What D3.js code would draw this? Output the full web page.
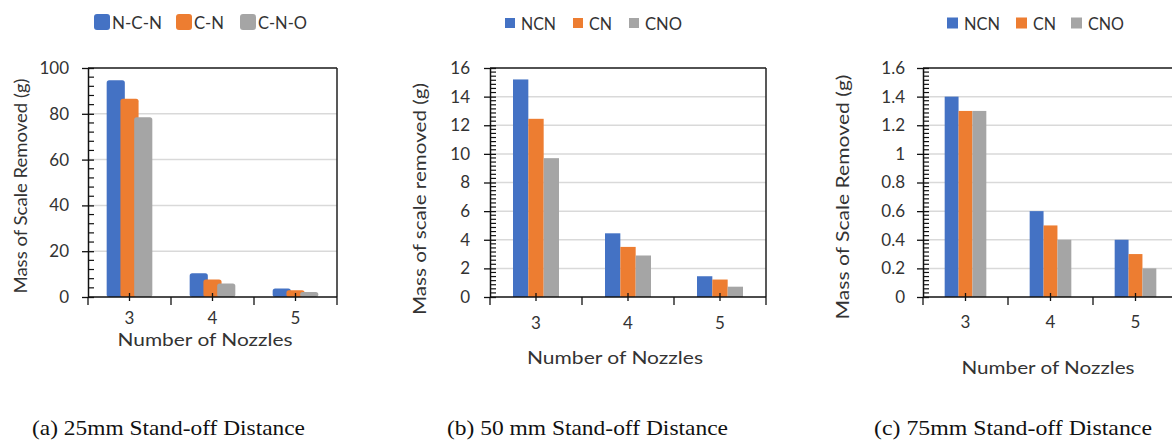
<!DOCTYPE html>
<html><head><meta charset="utf-8">
<script src="https://cdn.jsdelivr.net/npm/d3@7"></script>
<style>body{margin:0;background:#fff;}svg{display:block;}</style>
</head><body>
<svg id="chart" width="1172" height="441"></svg>
<script>
// ---- data ----
const categories = ["3", "4", "5"];
const seriesA = ["N-C-N", "C-N", "C-N-O"];
const seriesB = ["NCN", "CN", "CNO"];
const seriesC = ["NCN", "CN", "CNO"];
const a_NCN = [94.6, 10.4, 3.7];
const a_CN  = [86.6, 7.6, 3.0];
const a_CNO = [78.5, 5.9, 2.2];
const b_NCN = [15.2, 4.45, 1.45];
const b_CN  = [12.45, 3.5, 1.22];
const b_CNO = [9.7, 2.9, 0.72];
const c_NCN = [1.4, 0.6, 0.4];
const c_CN  = [1.3, 0.5, 0.3];
const c_CNO = [1.3, 0.4, 0.2];
const yTicksA = [0, 20, 40, 60, 80, 100];
const yTicksB = [0, 2, 4, 6, 8, 10, 12, 14, 16];
const yTicksC = [0, 0.2, 0.4, 0.6, 0.8, 1, 1.2, 1.4, 1.6];
const yTitleA = "Mass of Scale Removed  (g)";
const yTitleB = "Mass of scale removed (g)";
const yTitleC = "Mass of Scale Removed  (g)";
const xTitle = "Number  of Nozzles";
const captions = ["(a) 25mm Stand-off Distance", "(b) 50 mm Stand-off Distance", "(c) 75mm Stand-off Distance"];
const colors = ["#4472C4", "#ED7D31", "#A5A5A5"];

const svg = d3.select("#chart");
const FONT = "Lato, 'Open Sans', sans-serif";
const TXT = "#333";

function panel(cfg) {
  const g = svg.append("g");
  const y = d3.scaleLinear().domain([0, d3.max(cfg.yTicks)]).range([cfg.bottom, cfg.top]);
  const x0 = d3.scaleBand().domain(categories).range([cfg.left, cfg.right])
    .paddingInner(cfg.gap).paddingOuter(cfg.gap / 2);
  const bw = x0.bandwidth();
  const n = cfg.series.length;
  const step = bw / (n - 1 + cfg.widthFactor);
  const barW = step * cfg.widthFactor;

  // gridlines
  g.selectAll(".grid").data(cfg.yTicks.filter(t => t > 0)).enter().append("line")
    .attr("x1", cfg.left).attr("x2", cfg.right)
    .attr("y1", d => y(d)).attr("y2", d => y(d))
    .attr("stroke", "#d9d9d9").attr("stroke-width", 1.5);

  // frame top/right
  g.append("line").attr("x1", cfg.left).attr("x2", cfg.right).attr("y1", cfg.top).attr("y2", cfg.top)
    .attr("stroke", "#222").attr("stroke-width", 1.5);
  g.append("line").attr("x1", cfg.right).attr("x2", cfg.right).attr("y1", cfg.top).attr("y2", cfg.bottom)
    .attr("stroke", "#222").attr("stroke-width", 1.5);

  // bars
  cfg.values.forEach((vals, si) => {
    g.selectAll(".bar" + si).data(vals).enter().append("rect")
      .attr("x", (d, i) => x0(categories[i]) + si * step)
      .attr("y", d => y(d))
      .attr("width", barW)
      .attr("height", d => y(0) - y(d))
      .attr("rx", cfg.rx).attr("ry", cfg.rx)
      .attr("fill", colors[si]);
  });

  // y axis
  const yAxis = d3.axisLeft(y).tickValues(cfg.yTicks).tickSize(6).tickSizeOuter(0)
    .tickFormat(d => String(d));
  const ya = g.append("g").attr("transform", `translate(${cfg.left},0)`).call(yAxis);
  ya.select(".domain").attr("stroke", "#111").attr("stroke-width", 1.5);
  ya.selectAll(".tick line").attr("x2", -6).attr("x1", 6).attr("stroke", "#111").attr("stroke-width", 1.3);
  ya.selectAll(".tick text").attr("x", -cfg.yLabGap).attr("font-family", FONT).attr("font-size", cfg.tickFont)
    .attr("fill", TXT);
  // minor ticks
  const maj = cfg.yTicks[1] - cfg.yTicks[0];
  const minor = [];
  for (let k = 0; k < cfg.yTicks.length - 1; k++)
    for (let j = 1; j < cfg.minorN; j++) minor.push(cfg.yTicks[k] + j * maj / cfg.minorN);
  g.selectAll(".minor").data(minor).enter().append("line")
    .attr("x1", cfg.left).attr("x2", cfg.left + 6)
    .attr("y1", d => y(d)).attr("y2", d => y(d))
    .attr("stroke", "#111").attr("stroke-width", 1.2);

  // x axis
  const xAxis = d3.axisBottom(x0).tickSize(0).tickPadding(cfg.xLabPad);
  const xa = g.append("g").attr("transform", `translate(0,${cfg.bottom})`).call(xAxis);
  xa.select(".domain").remove();
  xa.selectAll(".tick text").attr("font-family", FONT).attr("font-size", cfg.tickFont).attr("fill", TXT);
  g.append("line").attr("x1", cfg.left).attr("x2", cfg.right).attr("y1", cfg.bottom).attr("y2", cfg.bottom)
    .attr("stroke", "#111").attr("stroke-width", 1.5);
  const bounds = [cfg.left].concat(categories.map(c => x0(c) + bw + x0.step() * cfg.gap / 2));
  g.selectAll(".xb").data(bounds).enter().append("line")
    .attr("x1", d => d).attr("x2", d => d).attr("y1", cfg.bottom).attr("y2", cfg.bottom + 8)
    .attr("stroke", "#111").attr("stroke-width", 1.3);
  g.selectAll(".xc").data(categories).enter().append("line")
    .attr("x1", d => x0(d) + bw / 2).attr("x2", d => x0(d) + bw / 2)
    .attr("y1", cfg.bottom - 4).attr("y2", cfg.bottom + 4)
    .attr("stroke", "#111").attr("stroke-width", 1.3);

  // titles
  g.append("text").attr("transform", `translate(${cfg.yTitleX},${cfg.yTitleY}) rotate(-90)`)
    .attr("text-anchor", "middle").attr("dominant-baseline", "central")
    .attr("font-family", FONT).attr("font-size", cfg.titleFont).attr("fill", TXT)
    .attr("textLength", cfg.yTitleLen).attr("lengthAdjust", "spacingAndGlyphs")
    .text(cfg.yTitle);
  g.append("text").attr("x", cfg.xTitleX).attr("y", cfg.xTitleY)
    .attr("text-anchor", "middle").attr("dominant-baseline", "central")
    .attr("font-family", FONT).attr("font-size", cfg.titleFont).attr("fill", TXT)
    .attr("textLength", cfg.xTitleLen).attr("lengthAdjust", "spacingAndGlyphs")
    .text(xTitle);

  // legend
  cfg.series.forEach((s, i) => {
    const lx = cfg.legend[i];
    g.append("rect").attr("x", lx).attr("y", cfg.legY - cfg.legBox / 2)
      .attr("width", cfg.legBox).attr("height", cfg.legBox)
      .attr("rx", cfg.legRx).attr("fill", colors[i]);
    g.append("text").attr("x", lx + cfg.legBox + cfg.legGap).attr("y", cfg.legY)
      .attr("dominant-baseline", "central")
      .attr("font-family", FONT).attr("font-size", cfg.legFont).attr("fill", TXT)
      .attr("textLength", cfg.legLen[i]).attr("lengthAdjust", "spacingAndGlyphs")
      .text(s);
  });

  // caption
  g.append("text").attr("x", cfg.capX).attr("y", 428)
    .attr("dominant-baseline", "central")
    .attr("font-family", "'Liberation Serif', 'Times New Roman', serif").attr("font-size", 21)
    .attr("fill", "#111").attr("textLength", cfg.capLen).attr("lengthAdjust", "spacingAndGlyphs")
    .text(cfg.caption);
}

panel({
  left: 88, right: 337, top: 68, bottom: 297, gap: 0.45, widthFactor: 1.32, rx: 2.5,
  yTicks: yTicksA, minorN: 5, series: seriesA, values: [a_NCN, a_CN, a_CNO],
  tickFont: 17, titleFont: 17, xLabPad: 15, legFont: 17, yLabGap: 19,
  yTitle: yTitleA, yTitleX: 20, yTitleY: 186, yTitleLen: 215,
  xTitleX: 205, xTitleY: 339, xTitleLen: 175,
  legend: [94, 176, 240], legY: 22, legBox: 16, legRx: 3, legGap: 2, legLen: [50, 30, 49],
  caption: captions[0], capX: 32, capLen: 273
});
panel({
  left: 490, right: 766, top: 68, bottom: 297, gap: 0.5, widthFactor: 1, rx: 0,
  yTicks: yTicksB, minorN: 7, series: seriesB, values: [b_NCN, b_CN, b_CNO],
  tickFont: 17, titleFont: 17, xLabPad: 20, legFont: 17, yLabGap: 20,
  yTitle: yTitleB, yTitleX: 419, yTitleY: 199, yTitleLen: 232,
  xTitleX: 615, xTitleY: 357, xTitleLen: 176,
  legend: [505, 573, 629], legY: 23, legBox: 10, legRx: 0, legGap: 6, legLen: [35, 23, 37],
  caption: captions[1], capX: 447, capLen: 281
});
panel({
  left: 923, right: 1178, top: 68, bottom: 297, gap: 0.51, widthFactor: 1, rx: 0,
  yTicks: yTicksC, minorN: 7, series: seriesC, values: [c_NCN, c_CN, c_CNO],
  tickFont: 17, titleFont: 17, xLabPad: 19, legFont: 17, yLabGap: 18,
  yTitle: yTitleC, yTitleX: 842, yTitleY: 197, yTitleLen: 245,
  xTitleX: 1048, xTitleY: 367, xTitleLen: 173,
  legend: [947, 1016, 1071], legY: 23, legBox: 11, legRx: 0, legGap: 6, legLen: [36, 23, 36],
  caption: captions[2], capX: 874, capLen: 278
});
</script>
</body></html>
